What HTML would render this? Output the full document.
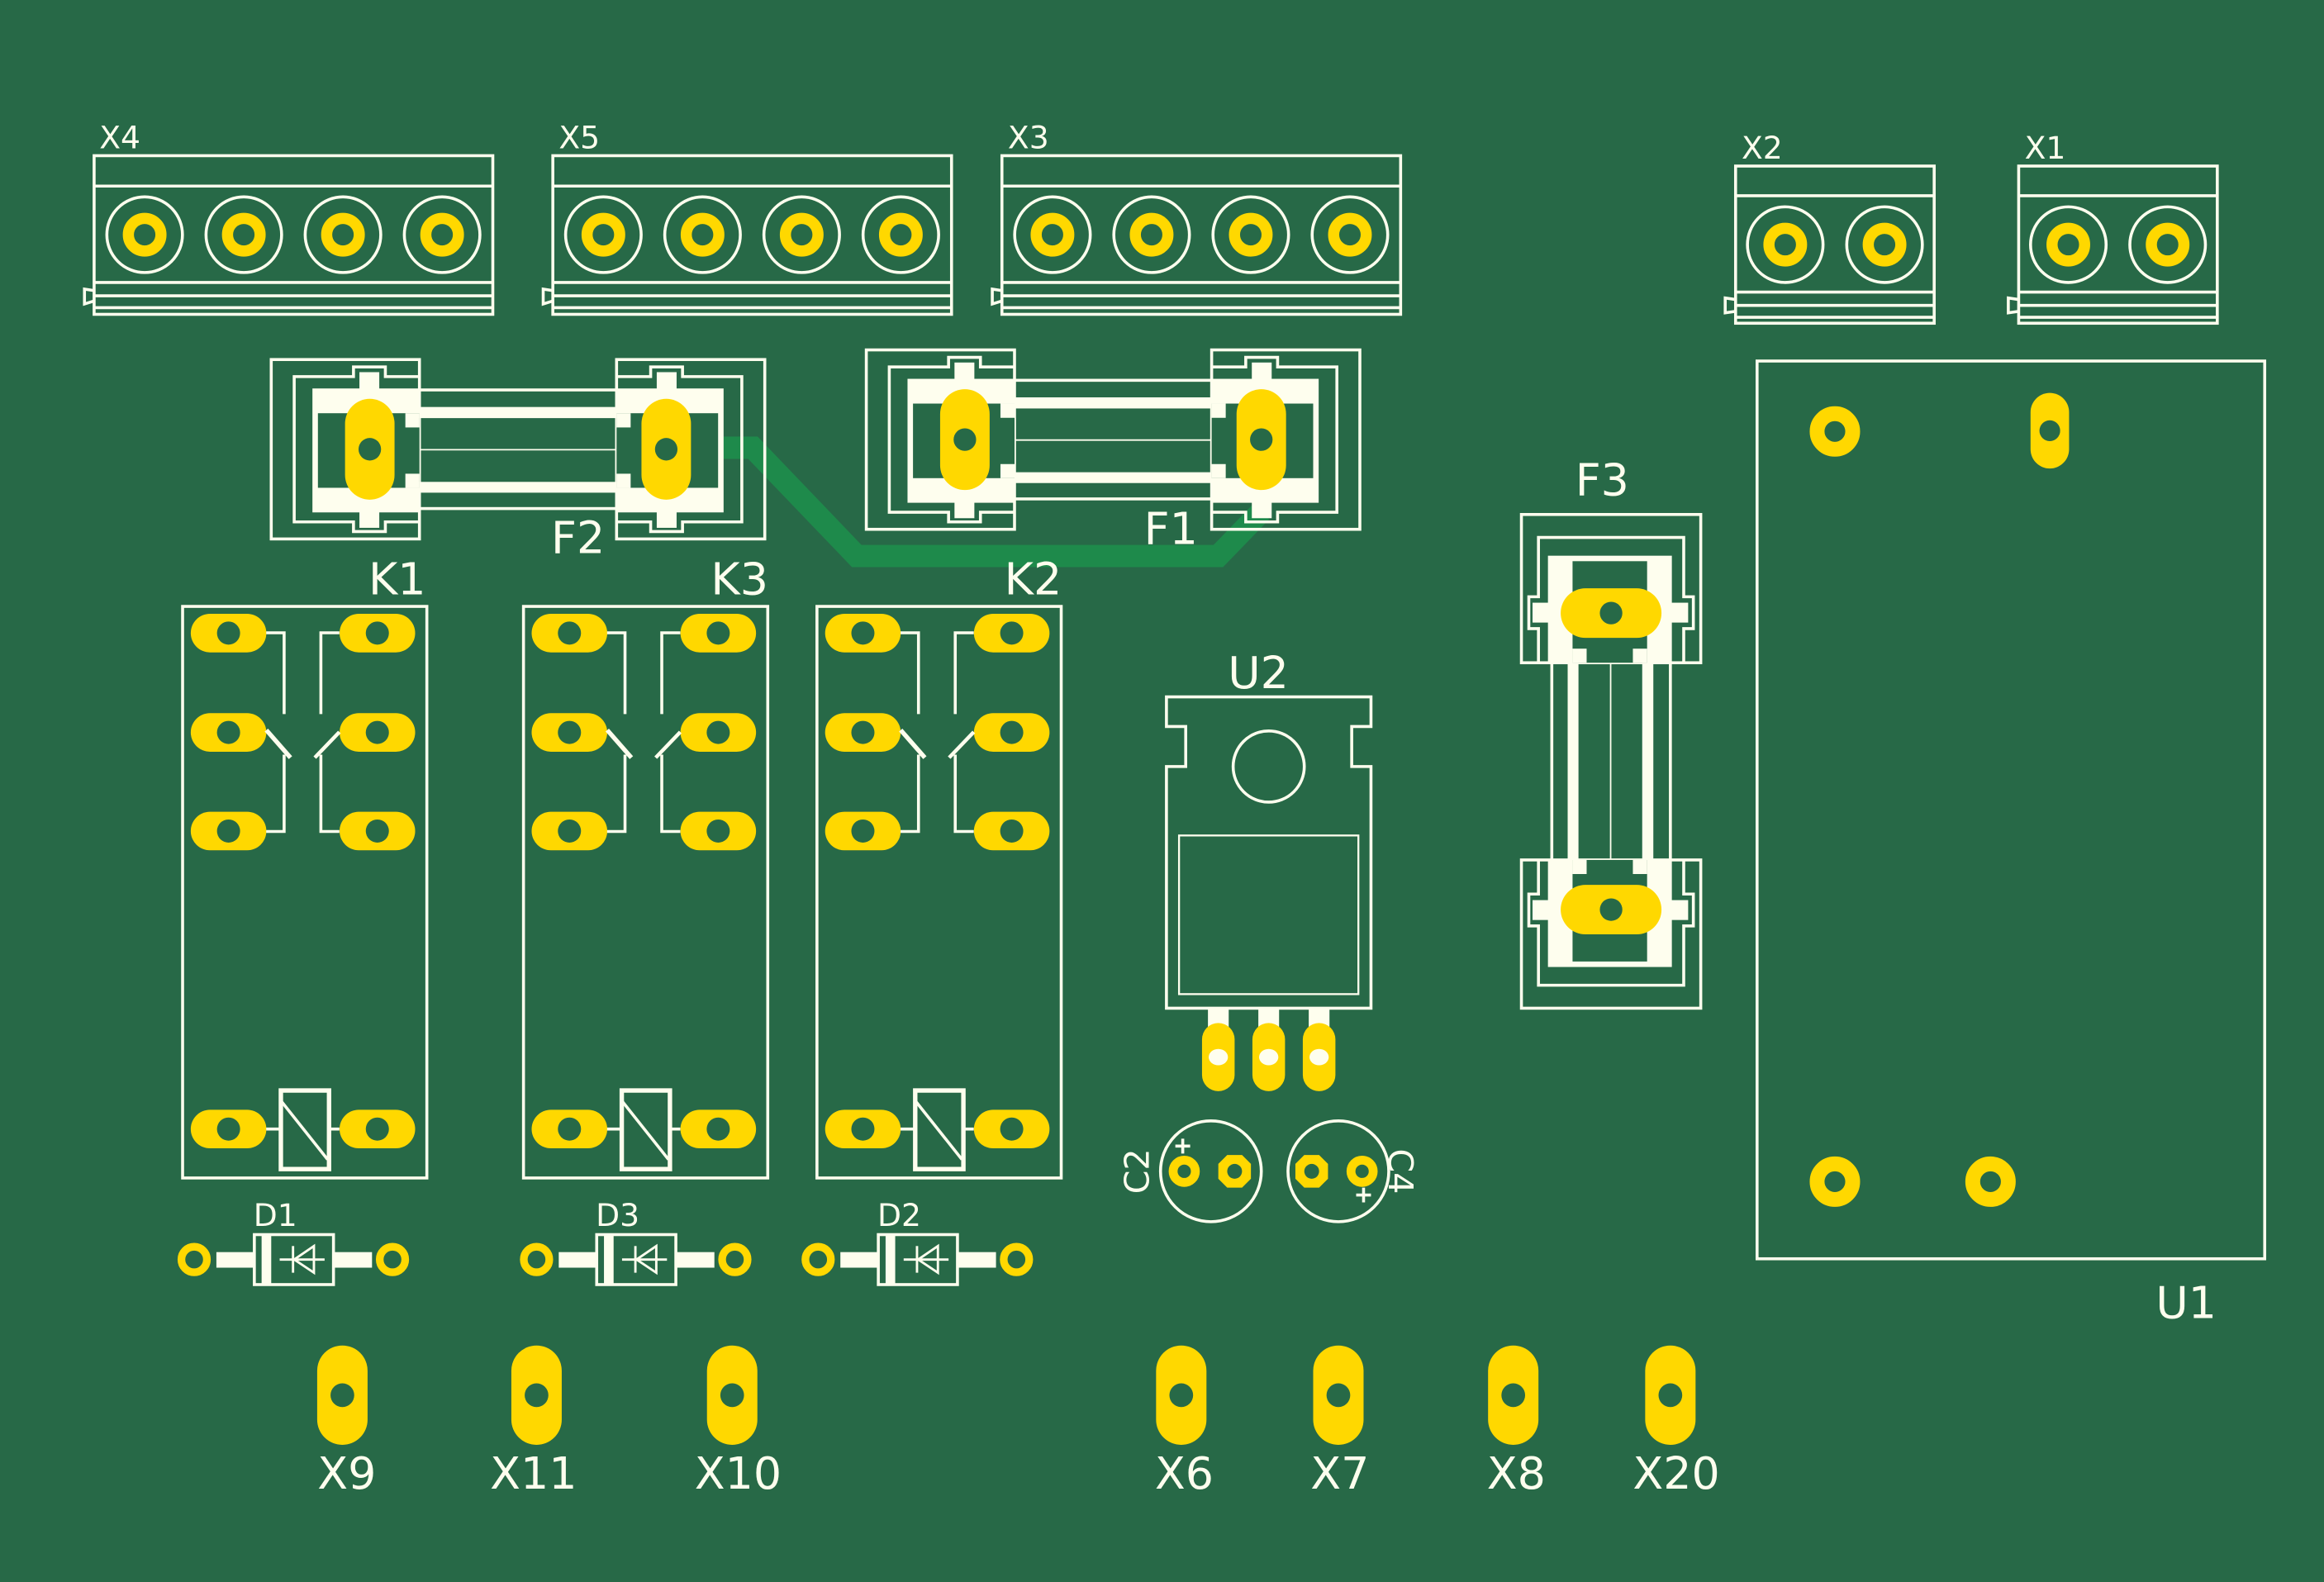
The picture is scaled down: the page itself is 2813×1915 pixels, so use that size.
<!DOCTYPE html>
<html><head><meta charset="utf-8"><style>
html,body{margin:0;padding:0;background:#276947;}
svg{display:block}
text{font-family:"DejaVu Sans","Liberation Sans",sans-serif;fill:#FEFEEE}
</style></head><body>
<svg width="2813" height="1915" viewBox="0 0 1568 1067" preserveAspectRatio="none" xmlns="http://www.w3.org/2000/svg">
<defs>
 <g id="tb">
  <circle r="25.5" fill="none" stroke="#FEFEEE" stroke-width="2"/>
  <circle r="11" fill="none" stroke="#FFD800" stroke-width="7.5"/>
 </g>
 <g id="fhalf">
  <rect x="-166.5" y="-60.5" width="100" height="121" fill="none" stroke="#FEFEEE" stroke-width="2"/>
  <path d="M-66.5,-49 H-89.5 V-55.5 H-111 V-49 H-151 V49 H-111 V55.5 H-89.5 V49 H-66.5" fill="none" stroke="#FEFEEE" stroke-width="2"/>
  <rect x="-138.7" y="-41" width="72.2" height="83.6" fill="#FEFEEE"/>
  <rect x="-135" y="-24.3" width="68.5" height="50.3" fill="#276947"/>
  <rect x="-76" y="-24.3" width="9.5" height="9.6" fill="#FEFEEE"/>
  <rect x="-76" y="16.5" width="9.5" height="9.5" fill="#FEFEEE"/>
  <rect x="-107" y="-52" width="13.4" height="12" fill="#FEFEEE"/>
  <rect x="-107" y="41" width="13.4" height="12" fill="#FEFEEE"/>
  <rect x="-116.7" y="-34" width="33.4" height="68" rx="16.7" fill="#FFD800"/>
  <circle cx="-100" cy="0" r="7.6" fill="#276947"/>
 </g>
 <g id="fuse">
  <use href="#fhalf"/>
  <use href="#fhalf" transform="scale(-1,1)"/>
  <rect x="-66.5" y="-41" width="133" height="2" fill="#FEFEEE"/>
  <rect x="-66.5" y="-28.5" width="133" height="7.5" fill="#FEFEEE"/>
  <rect x="-66.5" y="22" width="133" height="7.3" fill="#FEFEEE"/>
  <rect x="-66.5" y="39" width="133" height="2" fill="#FEFEEE"/>
  <line x1="-66" y1="0.3" x2="66" y2="0.3" stroke="#FEFEEE" stroke-width="1"/>
 </g>
 <g id="rpad"><rect x="-25.5" y="-13" width="51" height="26" rx="13" fill="#FFD800"/><circle r="7.8" fill="#276947"/></g>
 <g id="relay">
  <rect x="123.2" y="409" width="164.8" height="385.5" fill="none" stroke="#FEFEEE" stroke-width="2"/>
  <use href="#rpad" x="154.2" y="427"/><use href="#rpad" x="254.6" y="427"/>
  <use href="#rpad" x="154.2" y="494"/><use href="#rpad" x="254.6" y="494"/>
  <use href="#rpad" x="154.2" y="560.5"/><use href="#rpad" x="254.6" y="560.5"/>
  <use href="#rpad" x="154.2" y="761.5"/><use href="#rpad" x="254.6" y="761.5"/>
  <g fill="none" stroke="#FEFEEE" stroke-width="2">
   <path d="M179.6,426.8 H191.7 V481.6"/>
   <path d="M191.7,509 V560.8 H179.6"/>
   <path d="M229,426.8 H216.5 V481.6"/>
   <path d="M216.5,509 V560.8 H229"/>
   <path d="M179.7,492.4 L196,511" stroke-width="3"/>
   <path d="M229,493.7 L212.4,511" stroke-width="2.5"/>
   <rect x="189.5" y="735.5" width="32.5" height="53" stroke-width="3"/>
   <path d="M190,743 L221,782"/>
   <path d="M179.6,761.5 H189 M222,761.5 H229"/>
  </g>
 </g>
 <g id="diode">
  <circle cx="131" cy="849.5" r="8.6" fill="none" stroke="#FFD800" stroke-width="5.2"/>
  <circle cx="264.8" cy="849.5" r="8.6" fill="none" stroke="#FFD800" stroke-width="5.2"/>
  <rect x="146" y="844.5" width="25" height="10.5" fill="#FEFEEE"/>
  <rect x="225" y="844.5" width="26" height="10.5" fill="#FEFEEE"/>
  <rect x="171.6" y="832.7" width="53.4" height="33.7" fill="none" stroke="#FEFEEE" stroke-width="2"/>
  <rect x="176.5" y="833" width="6.5" height="33" fill="#FEFEEE"/>
  <g stroke="#FEFEEE" stroke-width="1.6" fill="none">
   <line x1="188.7" y1="849.5" x2="219" y2="849.5"/>
   <line x1="197.7" y1="840.4" x2="197.7" y2="858.4"/>
   <path d="M211.8,840.4 L211.8,858.4 L198.5,849.5 Z"/>
  </g>
 </g>
 <g id="vpad"><rect x="-17" y="-33.5" width="34" height="67" rx="17" fill="#FFD800"/><circle r="8" fill="#276947"/></g>
</defs>

<rect width="1568" height="1067" fill="#276947"/>

<path d="M450,302 H508 L578,375 H822 L851,345" fill="none" stroke="#1E8A4B" stroke-width="15" stroke-linejoin="miter"/>

<g fill="none" stroke="#FEFEEE" stroke-width="2">
 <g id="tb4">
  <rect x="63.5" y="105" width="269" height="107"/>
  <line x1="63.5" y1="125.5" x2="332.5" y2="125.5"/>
  <line x1="63.5" y1="190.5" x2="332.5" y2="190.5"/>
  <line x1="63.5" y1="199.5" x2="332.5" y2="199.5"/>
  <line x1="63.5" y1="207.5" x2="332.5" y2="207.5"/>
  <path d="M63.5,196 L57,195 V205 L63.5,203"/>
 </g>
 <use href="#tb4" x="309.5"/>
 <use href="#tb4" x="612.5"/>
 <g id="tb2">
  <rect x="1171" y="112" width="134" height="106"/>
  <line x1="1171" y1="132" x2="1305" y2="132"/>
  <line x1="1171" y1="197" x2="1305" y2="197"/>
  <line x1="1171" y1="206" x2="1305" y2="206"/>
  <line x1="1171" y1="214" x2="1305" y2="214"/>
  <path d="M1171,202 L1164,201 V211 L1171,210"/>
 </g>
 <use href="#tb2" x="191"/>
</g>
<use href="#tb" x="97.6" y="158.3"/><use href="#tb" x="164.5" y="158.3"/><use href="#tb" x="231.4" y="158.3"/><use href="#tb" x="298.3" y="158.3"/>
<use href="#tb" x="407.1" y="158.3"/><use href="#tb" x="474" y="158.3"/><use href="#tb" x="540.9" y="158.3"/><use href="#tb" x="607.8" y="158.3"/>
<use href="#tb" x="710.1" y="158.3"/><use href="#tb" x="777" y="158.3"/><use href="#tb" x="843.9" y="158.3"/><use href="#tb" x="910.8" y="158.3"/>
<use href="#tb" x="1204.5" y="165"/><use href="#tb" x="1271.5" y="165"/>
<use href="#tb" x="1395.5" y="165"/><use href="#tb" x="1462.5" y="165"/>
<text x="67" y="100" font-size="21">X4</text>
<text x="377" y="100" font-size="21">X5</text>
<text x="680" y="100" font-size="21">X3</text>
<text x="1175" y="107" font-size="21">X2</text>
<text x="1366" y="107" font-size="21">X1</text>

<use href="#fuse" transform="translate(349.5,303)"/>
<use href="#fuse" transform="translate(751,296.5)"/>
<use href="#fuse" transform="translate(1087,513.5) rotate(90)"/>
<text x="390" y="373" font-size="30" text-anchor="middle">F2</text>
<text x="790" y="367" font-size="30" text-anchor="middle">F1</text>
<text x="1081" y="334" font-size="30" text-anchor="middle">F3</text>

<use href="#relay"/>
<use href="#relay" x="230"/>
<use href="#relay" x="428"/>
<text x="268" y="401" font-size="30" text-anchor="middle">K1</text>
<text x="499" y="401" font-size="30" text-anchor="middle">K3</text>
<text x="697" y="401" font-size="30" text-anchor="middle">K2</text>

<use href="#diode"/>
<use href="#diode" x="231"/>
<use href="#diode" x="421"/>
<text x="171" y="827" font-size="21">D1</text>
<text x="402" y="827" font-size="21">D3</text>
<text x="592" y="827" font-size="21">D2</text>

<g fill="none" stroke="#FEFEEE" stroke-width="2">
 <path d="M787,470 H925 V490 H912 V517 H925 V680 H787 V517 H800 V490 H787 Z"/>
 <ellipse cx="856" cy="517" rx="24" ry="24"/>
 <rect x="795.5" y="563.5" width="121" height="107" stroke-width="1.3"/>
</g>
<rect x="815" y="680" width="14" height="20" fill="#FEFEEE"/>
<rect x="849" y="680" width="14" height="20" fill="#FEFEEE"/>
<rect x="883" y="680" width="14" height="20" fill="#FEFEEE"/>
<g fill="#FFD800">
 <rect x="811" y="690" width="22" height="46" rx="11"/>
 <rect x="845" y="690" width="22" height="46" rx="11"/>
 <rect x="879" y="690" width="22" height="46" rx="11"/>
</g>
<g fill="#FEFEEE">
 <ellipse cx="822" cy="713" rx="6.5" ry="5.5"/>
 <ellipse cx="856" cy="713" rx="6.5" ry="5.5"/>
 <ellipse cx="890" cy="713" rx="6.5" ry="5.5"/>
</g>
<text x="849" y="464" font-size="30" text-anchor="middle">U2</text>

<g fill="none" stroke="#FEFEEE" stroke-width="2">
 <circle cx="817" cy="790" r="34"/>
 <circle cx="903" cy="790" r="34"/>
 <path d="M793,773 H803 M798,768 V778 M915,806 H925 M920,801 V811"/>
</g>
<circle cx="799" cy="790" r="7.5" fill="none" stroke="#FFD800" stroke-width="6"/>
<circle cx="919" cy="790" r="7.5" fill="none" stroke="#FFD800" stroke-width="6"/>
<g fill="#FFD800">
 <polygon points="828,779 838,779 844,785 844,795 838,801 828,801 822,795 822,785"/>
 <polygon points="880,779 890,779 896,785 896,795 890,801 880,801 874,795 874,785"/>
</g>
<circle cx="833" cy="790" r="5" fill="#276947"/>
<circle cx="885" cy="790" r="5" fill="#276947"/>
<text transform="translate(775,790) rotate(-90)" font-size="23" text-anchor="middle">C2</text>
<text transform="translate(937,790) rotate(90)" font-size="23" text-anchor="middle">C4</text>

<rect x="1185.5" y="243.5" width="342.5" height="605.5" fill="none" stroke="#FEFEEE" stroke-width="2"/>
<circle cx="1238" cy="291" r="12" fill="none" stroke="#FFD800" stroke-width="10"/>
<circle cx="1238" cy="797" r="12" fill="none" stroke="#FFD800" stroke-width="10"/>
<circle cx="1343" cy="797" r="12" fill="none" stroke="#FFD800" stroke-width="10"/>
<rect x="1370" y="265" width="26" height="51" rx="13" fill="#FFD800"/>
<circle cx="1383" cy="290.5" r="7" fill="#276947"/>
<text x="1475" y="889" font-size="30" text-anchor="middle">U1</text>

<use href="#vpad" x="231" y="941"/>
<use href="#vpad" x="362" y="941"/>
<use href="#vpad" x="494" y="941"/>
<use href="#vpad" x="797" y="941"/>
<use href="#vpad" x="903" y="941"/>
<use href="#vpad" x="1021" y="941"/>
<use href="#vpad" x="1127" y="941"/>
<g font-size="30" text-anchor="middle">
 <text x="234" y="1004">X9</text>
 <text x="360" y="1004">X11</text>
 <text x="498" y="1004">X10</text>
 <text x="799" y="1004">X6</text>
 <text x="904" y="1004">X7</text>
 <text x="1023" y="1004">X8</text>
 <text x="1131" y="1004">X20</text>
</g>
</svg>
</body></html>
